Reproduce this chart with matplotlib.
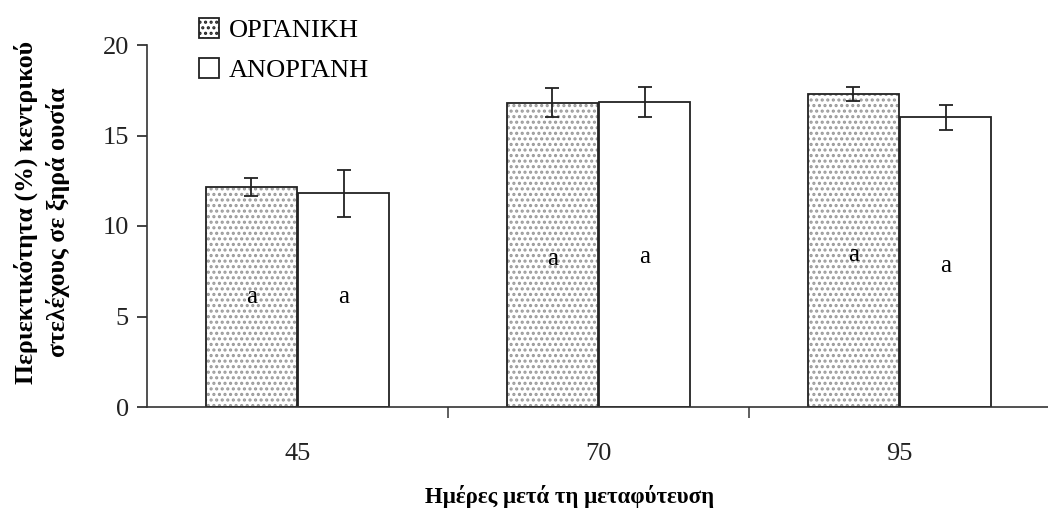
import matplotlib.pyplot as plt
import numpy as np
from matplotlib.patches import Patch

plt.rcParams['font.family'] = ['Liberation Serif', 'DejaVu Serif']
plt.rcParams['hatch.linewidth'] = 1.5

days = ['45', '70', '95']
organic = [12.15, 16.8, 17.3]
organic_err = [0.5, 0.8, 0.4]
inorganic = [11.8, 16.85, 16.0]
inorganic_err = [1.3, 0.85, 0.7]
organic_letters = ['a', 'a', 'a']
inorganic_letters = ['a', 'a', 'a']
organic_letter_y = [6.1, 8.2, 8.4]
inorganic_letter_y = [6.1, 8.3, 7.8]

fig = plt.figure(figsize=(10.48, 5.2), dpi=100)
ax = fig.add_axes([147 / 1048, 1 - 407 / 520, 901 / 1048, 362 / 520])

x = np.arange(len(days))
w = 0.305
off = 0.153

# dotted fill first (grey dots), then the black outline on top
ax.bar(x - off, organic, w, color='white', edgecolor='#999999', hatch='...',
       linewidth=0)
ax.bar(x - off, organic, w, color='none', edgecolor='#222222', linewidth=1.3)
ax.bar(x + off, inorganic, w, color='white', edgecolor='#222222', linewidth=1.3)
ax.errorbar(x - off, organic, yerr=organic_err, fmt='none', ecolor='#222222',
            elinewidth=1.3, capsize=5, capthick=1.3)
ax.errorbar(x + off, inorganic, yerr=inorganic_err, fmt='none', ecolor='#222222',
            elinewidth=1.3, capsize=5, capthick=1.3)

for i in range(len(days)):
    ax.text(x[i] - off, organic_letter_y[i], organic_letters[i], ha='center',
            va='center', fontsize=18)
    ax.text(x[i] + off, inorganic_letter_y[i], inorganic_letters[i], ha='center',
            va='center', fontsize=18)

ax.set_xlim(-0.5, -0.5 + 901 / 301)
ax.set_ylim(0, 20)
ax.set_yticks([0, 5, 10, 15, 20])
ax.tick_params(axis='y', direction='out', length=7, width=1.2, labelsize=19,
               colors='#222222', pad=6)
ax.set_xticks(x)
ax.set_xticklabels(days)
ax.tick_params(axis='x', which='major', length=0, labelsize=19, pad=26,
               colors='#222222')
ax.set_xticks([0.5, 1.5], minor=True)
ax.tick_params(axis='x', which='minor', direction='out', length=8, width=1.2,
               colors='#444444')

for s in ['top', 'right']:
    ax.spines[s].set_visible(False)
for s in ['left', 'bottom']:
    ax.spines[s].set_linewidth(1.2)
    ax.spines[s].set_color('#333333')

fig.text(26 / 1048, 1 - 212 / 520, 'Περιεκτικότητα (%) κεντρικού', rotation=90,
         ha='center', va='center', fontsize=18.5, fontweight='bold')
fig.text(58 / 1048, 1 - 222 / 520, 'στελέχους σε ξηρά ουσία', rotation=90,
         ha='center', va='center', fontsize=18.5, fontweight='bold')
fig.text(570 / 1048, 1 - 497 / 520, 'Ημέρες μετά τη μεταφύτευση', ha='center',
         va='center', fontsize=16.5, fontweight='bold')

handles = [Patch(facecolor='white', edgecolor='#222222', hatch='...', linewidth=1.3),
           Patch(facecolor='white', edgecolor='#222222', linewidth=1.3)]
fig.legend(handles, ['ΟΡΓΑΝΙΚΗ', 'ΑΝΟΡΓΑΝΗ'], loc='upper left',
           bbox_to_anchor=(181 / 1048, 1 - 0 / 520),
           frameon=False, fontsize=19, handlelength=0.75, handleheight=0.75,
           handletextpad=0.35, labelspacing=0.6, borderpad=0.2)

fig.savefig('out.png', dpi=100)
